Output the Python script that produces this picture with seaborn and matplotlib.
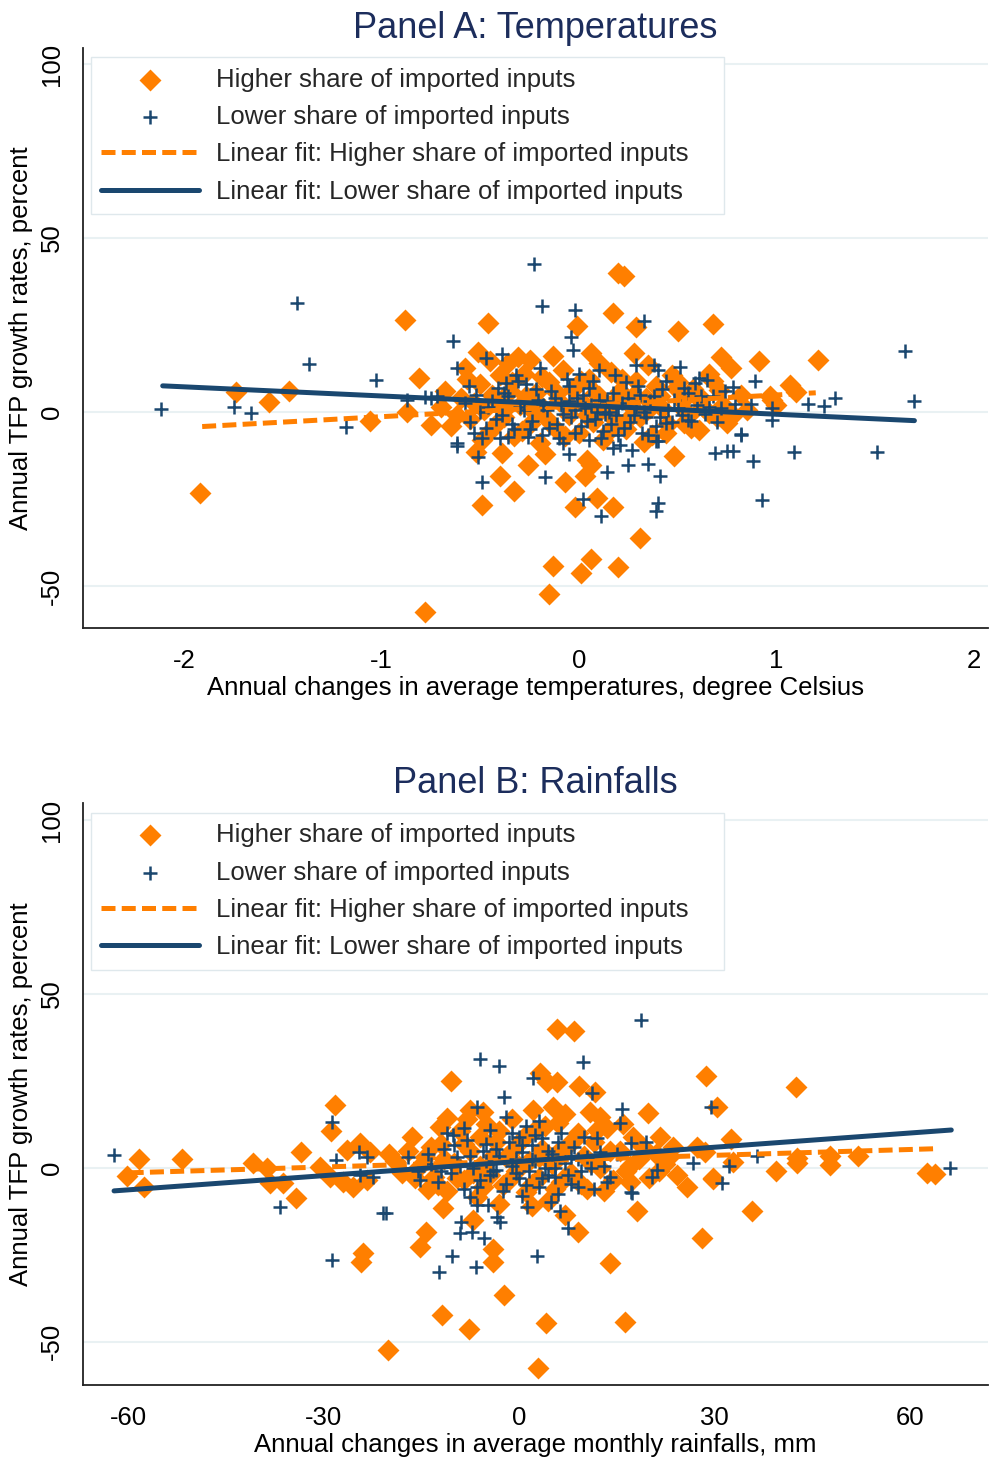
import matplotlib
matplotlib.use("Agg")
import matplotlib.pyplot as plt
import seaborn as sns

# ---------------- Panel A data (temperature change, TFP growth) ----------------
a_hi_x = [-1.92, -1.74, -1.57, -1.47, -1.06, -0.88, -0.87, -0.81, -0.75, -0.78,
          -0.49, -0.33, -0.40, -0.39, -0.52, -0.26, -0.17, -0.07, 0.03, 0.04,
          0.06, -0.02, 0.09, 0.17, 0.31, -0.13, 0.06, 0.01, 0.20, -0.15,
          0.48, -0.46, 0.17, 0.20, 0.23, -0.01, 0.29, 0.50, 0.68, -0.51,
          -0.31, -0.25, -0.36, -0.13, 0.06, 0.28, 0.72, 0.77, 0.91, 1.21,
          1.07, 1.10, 0.98, 1.00, 0.97, 0.50, 0.60, 0.71, 0.66, 0.53,
          0.61, 0.75,
          -0.60, -0.55, -0.50, -0.48, -0.45, -0.42, -0.40, -0.38, -0.35, -0.33,
          -0.30, -0.28, -0.25, -0.22, -0.20, -0.18, -0.15, -0.12, -0.10, -0.08,
          -0.05, -0.03, 0.00, 0.02, 0.05, 0.07, 0.10, 0.12, 0.14, 0.16,
          0.19, 0.21, 0.24, 0.26, 0.29, 0.31, 0.34, 0.37, 0.39, 0.42,
          0.45, 0.47, 0.52, 0.56, 0.58, 0.63, 0.68, 0.70, -0.65, -0.70,
          -0.58, 0.35, -0.45, 0.10,
          -0.68, -0.62, -0.57, -0.53, -0.49, -0.44, -0.41, -0.37, -0.34, -0.29,
          -0.27, -0.23, -0.19, -0.16, -0.11, -0.07, -0.04, 0.01, 0.04, 0.08,
          0.11, 0.15, 0.18, 0.22, 0.25, 0.28, 0.33, 0.36, 0.41, 0.44,
          0.49, 0.54, 0.57, 0.62, 0.66, 0.73, 0.78, 0.82, 0.85]
a_hi_y = [-23.3, 5.7, 2.9, 6.0, -2.6, 26.4, 0.0, 9.8, -3.7, -57.5,
          -26.7, -22.7, -18.4, -11.8, -11.5, -15.2, -12.1, -20.1, -18.4, -13.8,
          -15.2, -27.3, -24.7, -27.3, -36.2, -44.3, -42.2, -46.3, -44.5, -52.3,
          -12.6, 25.6, 28.4, 40.0, 39.2, 24.7, 24.4, 23.3, 25.3, 17.2,
          15.8, 14.9, 14.1, 16.1, 17.0, 17.0, 15.8, 12.6, 14.7, 15.0,
          7.8, 5.8, 3.4, 2.0, 4.5, 8.6, 4.3, 6.3, -0.3, -3.2,
          -5.2, -3.2,
          4.0, -2.0, 8.0, 0.5, -5.5, 3.5, 10.5, -1.5, 6.0, -7.0,
          2.0, 11.0, -3.5, 5.5, -9.0, 1.0, 8.5, -4.5, 3.0, 12.0,
          -1.0, 6.5, -6.0, 2.5, 9.5, -3.0, 4.5, -8.0, 0.5, 11.5,
          -2.5, 6.0, -5.0, 2.0, 9.0, -1.5, 4.0, -6.5, 7.5, 1.0,
          -3.5, 10.5, 3.0, -1.0, 6.5, 1.5, 9.0, -1.5, -4.0, 1.5,
          12.5, 13.5, 14.5, 14.0,
          6.0, -1.0, 9.5, 2.5, -8.0, 5.0, -3.0, 1.0, 8.5, -5.5,
          4.5, 0.0, 10.0, -2.0, 5.5, -7.0, 1.5, 9.0, -1.0, 5.5,
          0.5, -5.5, 3.0, 9.5, -2.0, 5.0, -8.5, 1.0, 4.5, -6.0,
          7.0, 0.0, -4.5, 4.0, 11.0, 2.0, -1.0, 5.0, 0.5]

a_lo_x = [-2.12, -1.75, -1.66, -1.43, -1.37, -1.18, -1.03, -0.87, -0.78, -0.75,
          -0.72, -0.23, -0.19, -0.02, -0.04, -0.03, -0.64, -0.62, 0.33, 1.65,
          1.70, 1.16, 1.24, 1.30, 0.98, 0.98, 1.09, 1.51, 0.93, -0.62,
          -0.51, -0.49, -0.17, -0.05, 0.02, 0.11, 0.14, 0.25, 0.35, 0.41,
          0.40, 0.39, 0.40, 0.69, 0.75, 0.78, 0.88, 0.82, 0.27, 0.17,
          0.21, -0.47, -0.39, -0.32, -0.37, 0.51, 0.38, 0.40, 0.29, 0.89,
          0.78, 0.61, 0.65, 0.59, 0.55, 0.44, 0.82, 0.39, 0.32, 0.87,
          0.79, -0.62, -0.49, -0.40, -0.26, -0.36,
          -0.58, -0.55, -0.52, -0.50, -0.47, -0.44, -0.41, -0.39, -0.36, -0.33,
          -0.30, -0.27, -0.24, -0.21, -0.19, -0.16, -0.14, -0.11, -0.09, -0.06,
          -0.04, -0.01, 0.01, 0.03, 0.05, 0.08, 0.10, 0.12, 0.15, 0.17,
          0.19, 0.22, 0.24, 0.26, 0.29, 0.31, 0.34, 0.36, 0.39, 0.42,
          0.45, 0.48, 0.52, 0.55, 0.60, 0.64, 0.68, 0.72, 0.05, -0.08,
          0.00, 0.10, -0.20, -0.10, 0.20, -0.02, 0.06, 0.13, -0.05,
          -0.56, -0.53, -0.46, -0.42, -0.38, -0.34, -0.31, -0.28, -0.25, -0.22,
          -0.18, -0.15, -0.12, -0.08, -0.05, -0.02, 0.02, 0.04, 0.07, 0.09,
          0.11, 0.14, 0.16, 0.18, 0.20, 0.23, 0.25, 0.28, 0.30, 0.33,
          0.35, 0.38, 0.41, 0.44, 0.47, 0.50, 0.53, 0.57, 0.62, 0.66,
          0.70, 0.74]
a_lo_y = [0.9, 1.4, -0.3, 31.3, 13.8, -4.2, 9.2, 3.4, 4.2, 4.0,
          4.5, 42.5, 30.5, 29.3, 21.6, 17.8, 20.4, 12.6, 26.1, 17.5,
          3.2, 2.3, 1.7, 4.0, 1.1, -2.3, -11.5, -11.5, -25.3, -9.8,
          -12.9, -20.1, -18.6, -12.1, -25.0, -29.9, -17.2, -15.2, -15.0, -18.4,
          -26.3, -28.4, -8.3, -11.8, -11.2, -11.2, -14.1, -6.6, -10.9, -10.5,
          -9.5, 15.5, 16.7, 10.6, 8.3, 12.9, 13.5, 12.0, 13.5, 8.9,
          7.2, 9.8, 9.2, 8.3, -2.3, -3.2, -6.3, -8.3, -6.0, 2.3,
          2.3, -8.9, -7.5, -7.5, -7.2, -7.2,
          2.5, -3.0, 5.0, 0.0, -4.5, 3.0, 7.0, -1.0, 4.5, -5.0,
          1.5, 8.0, -2.5, 3.5, -6.5, 0.5, 6.0, -3.5, 2.0, 9.5,
          -1.5, 4.0, -4.0, 1.0, 7.0, -2.0, 3.5, -5.5, 0.0, 5.5,
          -1.0, 2.5, 8.5, -3.0, 1.5, 5.0, -1.5, 3.0, -4.0, 6.5,
          0.5, 3.5, -1.0, 5.5, 2.0, -0.5, 4.5, 1.0, -8.0, -9.0,
          11.0, 12.0, 12.5, -7.5, -6.5, 0.5, 2.0, -0.5, 3.0,
          7.5, -6.0, 1.5, -2.0, 5.5, -3.5, 9.0, 0.5, -5.0, 6.5,
          2.0, -4.5, 4.0, -0.5, 7.5, -6.0, 5.0, -2.5, 9.0, 0.0,
          -7.5, 3.0, -3.5, 10.5, 1.0, -4.5, 4.0, -1.0, 7.5, 0.0,
          -6.5, 4.5, -1.5, 9.0, -3.0, 1.0, 7.0, -2.5, 4.5, 1.5,
          -3.0, 6.0]

# fitted lines (endpoints)
a_fit_hi_x = [-1.91, 1.20]
a_fit_hi_y = [-4.2, 5.5]
a_fit_lo_x = [-2.11, 1.70]
a_fit_lo_y = [7.5, -2.5]

# ---------------- Panel B data (rainfall change, TFP growth) ----------------
b_hi_x = [-60.2, -58.4, -57.6, -51.8, -40.9, -38.7, -38.2, -36.3, -34.3, -33.5,
          -30.6, -28.3, -28.9, -29.0, -26.4, -24.4, -22.9, -25.5, -27.0, -23.3,
          -24.0, -24.3, -20.1, -11.8, -7.7, -2.3, 2.9, 4.1, 16.3, 14.0,
          28.1, 18.1, -15.2, -14.3, -11.7, -4.0, -4.0, 9.1, 7.1, -7.1,
          -10.4, 5.8, 8.4, 3.2, 4.3, 5.8, -11.1, -7.5, -5.5, 2.2,
          5.2, -12.1, 9.2, 11.7, 19.8, 21.7, 10.9, 12.4, 27.3, 29.8,
          25.8, 24.2, 23.6, 17.1, 42.5, 28.7, 30.4, 32.6, 32.9, 29.8,
          39.5, 35.8, 42.7, 42.7, 47.8, 47.8, 52.1, 62.7, 63.9, 28.6,
          -17.0, -16.0, -19.0, -14.0,
          -14.5, -13.0, -12.0, -11.0, -10.0, -9.0, -8.5, -7.5, -6.5, -6.0,
          -5.0, -4.5, -3.5, -2.5, -2.0, -1.0, -0.5, 0.5, 1.0, 1.5,
          2.5, 3.0, 3.5, 4.5, 5.0, 6.0, 6.5, 7.5, 8.0, 9.0,
          10.0, 10.5, 11.5, 12.5, 13.5, 14.5, 15.5, 16.5, 17.5, 18.5,
          20.0, 21.0, 22.5, -16.5, -3.0, 2.0, 7.0, -8.0,
          -15.5, -13.5, -12.5, -11.5, -9.5, -8.5, -7.0, -6.0, -5.5, -4.0,
          -3.0, -1.5, -1.0, 0.0, 1.0, 2.0, 3.0, 4.0, 5.5, 6.0,
          7.0, 8.5, 9.5, 11.0, 12.0, 13.0, 14.0, 16.0, 17.0, 19.0,
          21.5, 23.0, -18.0, -20.0]
b_hi_y = [-2.3, 2.6, -5.5, 2.6, 1.4, 0.0, -4.3, -4.3, -8.6, 4.6,
          0.3, 18.1, 10.6, -2.6, 5.2, 7.2, 4.6, -5.5, -4.0, -3.4,
          -24.4, -27.0, -52.3, -42.2, -46.3, -36.5, -57.5, -44.5, -44.3, -27.3,
          -20.1, -12.4, -22.7, -18.4, -11.5, -23.3, -27.0, -18.4, -13.5, -14.9,
          25.0, 40.0, 39.4, 27.3, 24.7, 24.7, 14.4, 16.7, 16.1, 16.7,
          17.5, 11.8, 23.6, 21.8, 15.8, 8.9, 16.1, 14.7, 6.0, -3.2,
          -5.5, -2.0, 6.0, -4.0, 23.3, 26.4, 17.5, 8.3, 1.7, -2.9,
          -0.9, -12.4, 1.4, 2.9, 0.9, 3.4, 3.4, -1.4, -1.7, 4.6,
          5.0, -3.0, 2.0, -6.0,
          3.0, -2.5, 7.0, -6.5, 1.5, 10.5, -3.5, 5.0, -8.5, 0.5,
          12.5, -2.0, 7.5, -5.0, 3.0, 14.0, -1.0, 8.0, -7.0, 2.0,
          11.0, -3.0, 5.5, -9.5, 1.0, 13.0, -4.0, 6.5, -1.5, 10.0,
          3.5, -6.0, 7.5, 0.0, 11.5, -3.5, 5.0, -1.0, 9.0, 2.5,
          -3.0, 4.0, 1.0, 9.0, -10.5, -11.0, 15.5, 14.0,
          0.0, 6.0, -5.0, 2.5, -3.0, 7.0, -1.5, 9.0, -5.5, 3.5,
          10.5, -3.5, 5.0, 0.5, 9.5, -4.5, 3.0, 12.0, -6.0, 4.5,
          -2.5, 8.0, -4.5, 1.5, 11.0, -6.5, 5.0, 12.5, 0.5, 6.0,
          -1.0, 3.0, -1.5, 4.0]

b_lo_x = [-62.2, -36.7, -28.7, -28.1, -24.6, -23.3, -22.4, -24.4, -20.9, -28.7,
          -20.4, -12.3, -10.3, -6.6, 2.8, -8.9, -9.1, -7.2, -5.4, 7.5,
          6.3, 4.9, -6.5, -3.4, -2.9, -4.7, 1.2, 17.4, -6.0, -3.1,
          2.2, -2.3, -6.5, -10.1, 18.7, 9.8, 29.5, 11.2, 15.8, 15.5,
          19.5, 17.2, 26.7, 21.2, 20.5, 17.2, 32.3, 31.2, 36.6, 66.2,
          -15.2,
          -13.5, -12.5, -11.5, -10.5, -9.5, -8.5, -8.0, -7.0, -6.0, -5.5,
          -4.5, -4.0, -3.0, -2.5, -1.5, -1.0, 0.0, 0.5, 1.0, 1.5,
          2.5, 3.0, 3.5, 4.0, 5.0, 5.5, 6.5, 7.0, 8.0, 8.5,
          9.5, 10.5, 11.5, 12.0, 13.0, 14.0, 15.0, -2.0, 0.0, 3.0,
          -11.0, -7.5, 0.5, 6.0, 2.0, -3.5, -0.5, 4.5, 9.0, -5.0,
          -14.0, -12.0, -10.0, -9.0, -7.5, -6.5, -5.0, -4.5, -3.5, -2.0,
          -1.0, -0.5, 0.5, 1.0, 2.0, 2.5, 3.5, 4.5, 5.5, 6.0,
          7.5, 8.0, 9.0, 10.0, 11.0, 12.5, 13.5, -8.5, -15.5, -17.0]
b_lo_y = [3.7, -11.2, 13.2, 2.3, 4.6, 3.2, -2.6, -2.0, -12.9, -26.4,
          -12.9, -29.9, -25.3, -28.4, -25.3, -15.5, -18.7, -18.4, -20.1, -17.2,
          -12.4, -9.8, -10.6, -14.1, -15.5, -10.6, -11.2, -7.2, 31.3, 29.3,
          25.9, 20.4, 17.5, 9.5, 42.5, 30.5, 17.5, 21.6, 17.0, 12.9,
          7.5, 7.2, 1.4, -0.6, -2.6, -6.9, 0.6, -4.3, 3.4, 0.0,
          -3.4,
          1.0, -4.0, 5.5, -1.5, 3.0, -6.0, 8.0, 0.0, -3.5, 5.0,
          11.0, -1.0, 3.5, -6.5, 7.5, 0.5, -3.0, 4.5, 12.0, -1.0,
          2.0, -5.5, 8.5, 0.0, 4.0, -2.5, 10.0, 1.5, -4.5, 6.0,
          -1.0, 3.0, -6.0, 8.5, 0.5, -2.5, 4.0, 14.5, 9.0, 13.5,
          10.0, -8.5, -8.0, -7.5, 6.5, -0.5, 2.5, -2.0, 2.5, 2.0,
          4.0, -1.0, 6.5, 0.5, 3.5, -5.5, 7.0, -2.0, 5.5, -4.5,
          10.0, -1.5, 6.5, -5.0, 2.5, 9.5, -3.0, 5.0, 0.0, 7.5,
          -2.0, 3.5, -5.5, 9.0, 0.0, 4.5, -4.0, 11.5, -1.0, 3.0]

b_fit_hi_x = [-59.8, 63.6]
b_fit_hi_y = [-1.4, 5.5]
b_fit_lo_x = [-62.2, 66.4]
b_fit_lo_y = [-6.6, 10.9]

y_ticks = [-50, 0, 50, 100]
a_x_ticks = [-2, -1, 0, 1, 2]
b_x_ticks = [-60, -30, 0, 30, 60]

label_hi = "Higher share of imported inputs"
label_lo = "Lower share of imported inputs"
label_fit_hi = "Linear fit: Higher share of imported inputs"
label_fit_lo = "Linear fit: Lower share of imported inputs"

# ---------------- styling ----------------
sns.set_style("white")
plt.rcParams["font.family"] = ["Liberation Sans", "DejaVu Sans"]
plt.rcParams["axes.unicode_minus"] = False

ORANGE = "#ff7f00"
NAVY = "#1a476f"
TITLE_C = "#1c2d5c"
GRID_C = "#e9f1f3"
FS = 18.5

fig = plt.figure(figsize=(9.89, 14.58), dpi=100)
axA = fig.add_axes([83 / 989, 1 - 628 / 1458, 905 / 989, 580 / 1458])
axB = fig.add_axes([83 / 989, 1 - 1385 / 1458, 905 / 989, 582 / 1458])


def draw(ax, hx, hy, lx, ly, fhx, fhy, flx, fly, xlim, ylim, xticks, xlabel, title, leg_top):
    ax.set_facecolor("white")
    for yt in y_ticks:
        ax.axhline(yt, color=GRID_C, lw=1.5, zorder=0)
    sns.scatterplot(x=hx, y=hy, ax=ax, marker="D", color=ORANGE, s=125,
                    linewidth=0, label=label_hi, zorder=2)
    sns.scatterplot(x=lx, y=ly, ax=ax, marker="+", color=NAVY, s=95,
                    linewidth=1.8, label=label_lo, zorder=3)
    sns.lineplot(x=fhx, y=fhy, ax=ax, color=ORANGE, linewidth=3.6, sort=False,
                 errorbar=None, linestyle=(0, (2.8, 1.25)), label=label_fit_hi, zorder=4)
    sns.lineplot(x=flx, y=fly, ax=ax, color=NAVY, linewidth=3.6, sort=False,
                 errorbar=None, solid_capstyle="round", label=label_fit_lo, zorder=5)
    ax.set_xlim(*xlim)
    ax.set_ylim(*ylim)
    ax.set_xticks(xticks)
    ax.set_yticks(y_ticks)
    for side in ["top", "right"]:
        ax.spines[side].set_visible(False)
    for side in ["left", "bottom"]:
        ax.spines[side].set_color("#222222")
        ax.spines[side].set_linewidth(1.3)
    ax.tick_params(axis="both", which="major", direction="out", length=5,
                   width=1.2, color="#222222", labelsize=FS, labelcolor="black")
    ax.tick_params(axis="x", pad=10)
    ax.tick_params(axis="y", pad=9, labelrotation=90)
    for lab in ax.get_yticklabels():
        lab.set_va("center")
    ax.set_xlabel(xlabel, fontsize=FS, labelpad=2, color="black")
    ax.set_ylabel("Annual TFP growth rates, percent", fontsize=FS, labelpad=5, color="black")
    ax.set_title(title, fontsize=26, color=TITLE_C, pad=7)
    leg_w = (724 - 91) / 905
    leg = ax.legend(loc="upper left", bbox_to_anchor=(0.009, leg_top - 0.5, leg_w, 0.5),
                    mode="expand", borderaxespad=0,
                    fontsize=FS, handlelength=3.8, handletextpad=0.65, labelspacing=0.52,
                    borderpad=0.4, frameon=True, fancybox=False, framealpha=1,
                    edgecolor="#dfe8ec")
    leg.get_frame().set_linewidth(1.0)


draw(axA, a_hi_x, a_hi_y, a_lo_x, a_lo_y, a_fit_hi_x, a_fit_hi_y, a_fit_lo_x, a_fit_lo_y,
     (-2.514, 2.073), (-62.1, 104.6), a_x_ticks,
     "Annual changes in average temperatures, degree Celsius",
     "Panel A: Temperatures", 0.984)
draw(axB, b_hi_x, b_hi_y, b_lo_x, b_lo_y, b_fit_hi_x, b_fit_hi_y, b_fit_lo_x, b_fit_lo_y,
     (-66.97, 72.04), (-62.4, 104.9), b_x_ticks,
     "Annual changes in average monthly rainfalls, mm",
     "Panel B: Rainfalls", 0.983)

fig.savefig("out.png", dpi=100, facecolor="white")
